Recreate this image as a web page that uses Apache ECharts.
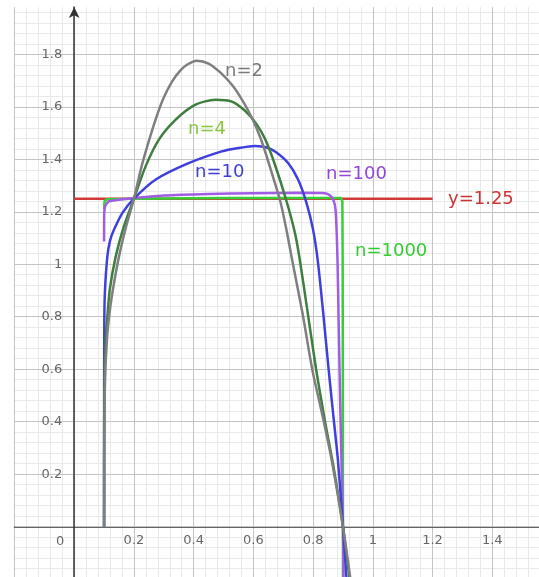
<!DOCTYPE html>
<html>
<head>
<meta charset="utf-8">
<script src="https://cdn.jsdelivr.net/npm/echarts/dist/echarts.min.js"></script>
<style>
    html, body { margin: 0; padding: 0; background: #fff; }
    #chart-curves { width: 539px; height: 577px; }
</style>
</head>
<body>
<div id="chart-curves"></div>
<script>

// points, [x, y]
var curve_n2 = [[0.1,0],[0.1005,0.3],[0.103,0.55],[0.11,0.72],[0.12,0.83],[0.132,0.92],[0.15,1.03],[0.173,1.14],[0.2,1.25],[0.225,1.37],[0.25,1.47],[0.275,1.56],[0.3,1.635],[0.327,1.695],[0.355,1.738],[0.38,1.762],[0.41,1.776],[0.45,1.765],[0.49,1.73],[0.528,1.684],[0.555,1.64],[0.583,1.585],[0.61,1.52],[0.635,1.445],[0.661,1.35],[0.69,1.24],[0.71,1.135],[0.73,1.015],[0.765,0.81],[0.797,0.6],[0.83,0.43],[0.862,0.255],[0.9,0],[0.925,-0.2]];
var curve_n4 = [[0.1,0],[0.1003,0.4],[0.102,0.6],[0.106,0.72],[0.111,0.8],[0.119,0.903],[0.139,1.03],[0.165,1.14],[0.2,1.25],[0.239,1.373],[0.283,1.474],[0.339,1.55],[0.406,1.608],[0.472,1.627],[0.528,1.62],[0.572,1.585],[0.61,1.535],[0.64,1.475],[0.672,1.38],[0.711,1.24],[0.739,1.12],[0.755,1.02],[0.78,0.83],[0.81,0.6],[0.84,0.4],[0.868,0.23],[0.9,0],[0.922,-0.2]];
var curve_n10 = [[0.1,0],[0.1002,0.5],[0.1008,0.79],[0.103,0.9],[0.111,1.03],[0.12,1.09],[0.133,1.131],[0.161,1.195],[0.2,1.25],[0.272,1.322],[0.383,1.385],[0.494,1.43],[0.55,1.443],[0.606,1.451],[0.645,1.445],[0.675,1.428],[0.717,1.385],[0.75,1.322],[0.778,1.233],[0.8,1.131],[0.816,1.01],[0.835,0.8],[0.852,0.598],[0.868,0.42],[0.883,0.255],[0.9,0],[0.912,-0.2]];
var curve_n100 = [[0.1,1.087],[0.1004,1.19],[0.104,1.222],[0.117,1.24],[0.2,1.252],[0.3,1.262],[0.45,1.268],[0.6,1.271],[0.75,1.272],[0.84,1.271],[0.856,1.263],[0.868,1.245],[0.875,1.21],[0.879,1.12],[0.882,1.0],[0.886,0.75],[0.891,0.45],[0.896,0.2],[0.9,0],[0.902,-0.2]];
var curve_n1000 = [[0.1,1.21],[0.1015,1.24],[0.11,1.248],[0.2,1.25],[0.5,1.252],[0.893,1.252],[0.898,1.24],[0.899,1.0],[0.9,0],[0.9,-0.2]];
var line_y125 = [[0,1.25],[1.2,1.25]];

var curve_names = ['n=2', 'n=4', 'n=10', 'n=100', 'n=1000', 'y=1.25'];
var x_ticks = ['0.2', '0.4', '0.6', '0.8', '1', '1.2', '1.4'];
var y_ticks = ['0.2', '0.4', '0.6', '0.8', '1', '1.2', '1.4', '1.6', '1.8'];


var chart = echarts.init(document.getElementById('chart-curves'));

var grid_major = '#c4c4c4';
var grid_minor = '#e9e9e9';
var axis_col = '#333';
var tick_font = 'DejaVu Sans';

// grid box and where x=0 / y=0 fall inside it
var g_left = 14.5, g_top = 7.1, g_w = 537.5, g_h = 572;
var x_min = -0.2, x_max = 1.6, y_min = -0.2, y_max = 1.98;
var y_axis_shift = g_w * (0 - x_min) / (x_max - x_min);
var x_axis_shift = g_h * (0 - y_min) / (y_max - y_min);

function curve(name, data, color, smooth, z) {
    return {
        name: name,
        type: 'line',
        data: data,
        showSymbol: false,
        symbol: 'none',
        smooth: smooth,
        z: z,
        lineStyle: { color: color, width: 2.5 },
        animation: false
    };
}

function label(text, left, top, color) {
    return {
        type: 'text',
        left: left,
        top: top,
        z: 20,
        style: { text: text, fill: color, fontSize: 18, fontFamily: 'DejaVu Sans' }
    };
}

var option = {
    animation: false,
    grid: { left: g_left, top: g_top, width: g_w, height: g_h, containLabel: false, outerBoundsMode: 'none' },
    xAxis: {
        type: 'value',
        min: x_min,
        max: x_max,
        interval: 0.2,
        position: 'bottom',
        offset: -x_axis_shift,
        axisLine: { onZero: false, lineStyle: { color: axis_col, width: 1.5 } },
        axisTick: { show: false },
        axisLabel: {
            margin: 8,
            color: '#666',
            fontFamily: tick_font,
            fontSize: 13,
            formatter: function (v) {
                var s = String(+v.toFixed(2));
                return x_ticks.indexOf(s) >= 0 ? s : '';
            }
        },
        splitLine: { show: true, lineStyle: { color: grid_major, width: 1 } },
        minorTick: { show: false, splitNumber: 5 },
        minorSplitLine: { show: true, lineStyle: { color: grid_minor, width: 1 } }
    },
    yAxis: [
        {
            type: 'value',
            min: y_min,
            max: y_max,
            interval: 0.2,
            position: 'left',
            offset: -y_axis_shift,
            z: 1,
            axisLine: {
                onZero: false,
                symbol: ['none', 'arrow'],
                symbolSize: [8, 11],
                lineStyle: { color: axis_col, width: 1.5 }
            },
            axisTick: { show: false },
            axisLabel: {
                margin: 12,
                color: '#666',
                fontFamily: tick_font,
                fontSize: 13,
                formatter: function (v) {
                    var s = String(+v.toFixed(2));
                    return y_ticks.indexOf(s) >= 0 ? s : '';
                }
            },
            splitLine: { show: true, showMaxLine: false, lineStyle: { color: grid_major, width: 1 } }
        },
        {
            // minor grid rows only
            type: 'value',
            min: y_min,
            max: y_max,
            interval: 0.04,
            z: 0,
            axisLine: { show: false },
            axisTick: { show: false },
            axisLabel: { show: false },
            splitLine: { show: true, showMaxLine: false, lineStyle: { color: grid_minor, width: 1 } }
        }
    ],
    graphic: [
        { type: 'text', left: 56, top: 535, z: 20, style: { text: '0', fill: '#666', fontSize: 13, fontFamily: 'DejaVu Sans' } },
        label(curve_names[0], 225, 62, '#7a7a7a'),
        label(curve_names[1], 188, 120, '#8cc63f'),
        label(curve_names[2], 195, 163, '#3d3dd6'),
        label(curve_names[3], 326, 165, '#9146d9'),
        label(curve_names[4], 355, 242, '#33cc33'),
        label(curve_names[5], 448, 190, '#cc3333')
    ],
    series: [
        curve(curve_names[5], line_y125, '#d23a3a', false, 2),
        curve(curve_names[4], curve_n1000, '#35d035', false, 3),
        curve(curve_names[3], curve_n100, '#a15ce6', 0.2, 4),
        curve(curve_names[2], curve_n10, '#3f3fe0', 0.25, 5),
        curve(curve_names[1], curve_n4, '#3e7e3e', 0.25, 6),
        curve(curve_names[0], curve_n2, '#7f7f7f', 0.25, 7)
    ]
};

chart.setOption(option);

</script>
</body>
</html>
